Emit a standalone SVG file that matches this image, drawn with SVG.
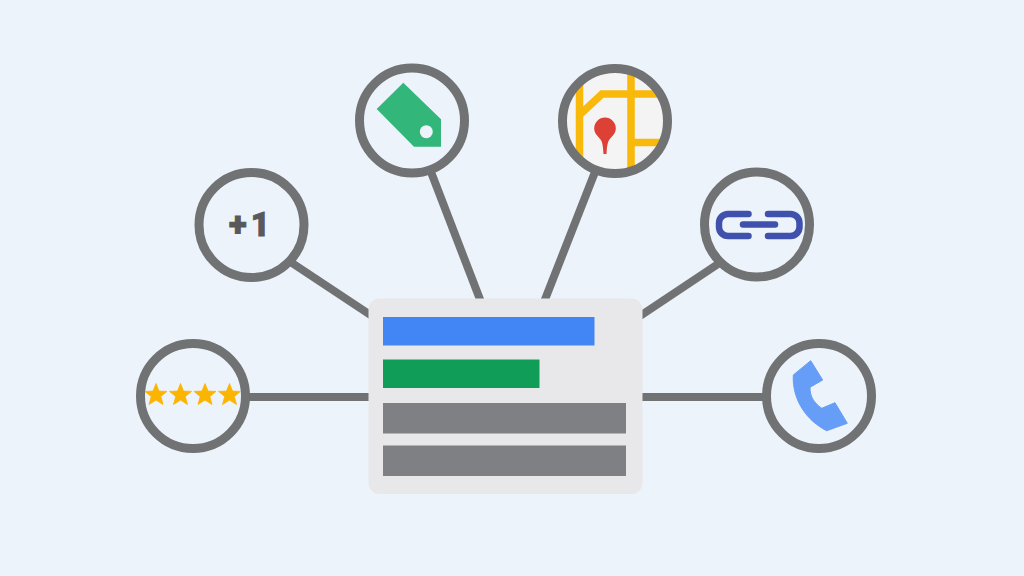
<svg xmlns="http://www.w3.org/2000/svg" width="1024" height="576" viewBox="0 0 1024 576">
<style>
.ring{fill:#edf3fb;stroke:#707273;stroke-width:9}
.ringtop{fill:none;stroke:#707273;stroke-width:9}
.conn{stroke:#707273;stroke-width:8;fill:none}
.road{stroke:#f9b90a;stroke-width:7.5;fill:none}
.star{fill:#fbb400}
.lnk{fill:none;stroke:#3f51ad;stroke-width:6.5;stroke-linecap:round}
.gray{fill:#7f8083}
</style>
<defs>
<clipPath id="mapclip"><circle cx="615" cy="121" r="50"/></clipPath>
<polygon id="st" class="star" points="0,-11.500 3,-3.900 11,-3.600 4.800,1.500 7,9.500 0,5.100 -7,9.500 -4.800,1.500 -11,-3.600 -3,-3.900" stroke="#fbb400" stroke-width="0.8" stroke-linejoin="round"/>
</defs>
<rect width="1024" height="576" fill="#edf3fb"/>
<g id="connectors">
<line class="conn" x1="248" y1="397" x2="372" y2="397"/>
<line class="conn" x1="292" y1="263" x2="372" y2="316"/>
<line class="conn" x1="431" y1="172" x2="481" y2="302"/>
<line class="conn" x1="595" y1="172" x2="544" y2="302"/>
<line class="conn" x1="718" y1="264" x2="640" y2="316"/>
<line class="conn" x1="640" y1="397" x2="766" y2="397"/>
</g>
<g id="card">
<rect x="368.500" y="298.500" width="274" height="195.500" rx="11" fill="#e8e8ea"/>
<rect x="383" y="317" width="211.500" height="28.500" fill="#4285f4"/>
<rect x="383" y="359.500" width="156.500" height="28.500" fill="#0f9d58"/>
<rect class="gray" x="383" y="403" width="243" height="30.500"/>
<rect class="gray" x="383" y="445.500" width="243" height="30.500"/>
</g>
<g id="node-rating">
<circle class="ring" cx="193" cy="396" r="52.500"/>
<use href="#st" x="156" y="395"/>
<use href="#st" x="180.500" y="395"/>
<use href="#st" x="205" y="395"/>
<use href="#st" x="229.500" y="395"/>
</g>
<g id="node-plus-one">
<circle class="ring" cx="251.500" cy="225" r="52.500"/>
<text x="251.500" y="236" text-anchor="middle" font-family="Roboto, 'Liberation Sans', sans-serif" font-weight="900" font-size="33" letter-spacing="4" fill="#58595b" stroke="#58595b" stroke-width="0.9">+1</text>
</g>
<g id="node-tag">
<circle class="ring" cx="412" cy="120.500" r="52.500"/>
<polygon points="403.300,82.700 441,119.300 441,146.700 414,146.700 376.700,109" fill="#33b679"/>
<circle cx="426.300" cy="131.700" r="6.500" fill="#edf3fb"/>
</g>
<g id="node-map">
<circle cx="615" cy="121" r="52.500" fill="#f4f4f4"/>
<g clip-path="url(#mapclip)">
<path class="road" d="M579.500 60V175M579.500 115L602 94H680M631 60V180M631 142.500H680"/>
</g>
<circle class="ringtop" cx="615" cy="121" r="52.500"/>
<path d="M605 117.500a10.800 10.800 0 0 1 10.800 10.800c0 5.500-4 8-6.500 11.500c-1.700 2.500-2.300 6-2.800 14.200h-3c-.5-8.200-1.100-11.700-2.800-14.200c-2.500-3.500-6.500-6-6.500-11.500a10.800 10.800 0 0 1 10.800-10.800z" fill="#dd4035"/>
</g>
<g id="node-link">
<circle class="ring" cx="757" cy="224.500" r="52.500"/>
<path class="lnk" d="M748.500 214H728a9 9 0 0 0-9 9v4a9 9 0 0 0 9 9h20.500"/>
<path class="lnk" d="M768 214h22.500a9 9 0 0 1 9 9v4a9 9 0 0 1-9 9H768"/>
<path class="lnk" stroke-width="7" d="M743 224.500H775"/>
</g>
<g id="node-phone">
<circle class="ring" cx="819" cy="396" r="52.500"/>
<path d="M810.700 360.700L822.700 380L810 387.300C810 396 813 402 821.700 408.300L835 402.700L847.300 423.300L826.700 430.700C807 421 792 400 793.300 375Z" fill="#669df6" stroke="#669df6" stroke-width="1" stroke-linejoin="round"/>
</g>
</svg>
